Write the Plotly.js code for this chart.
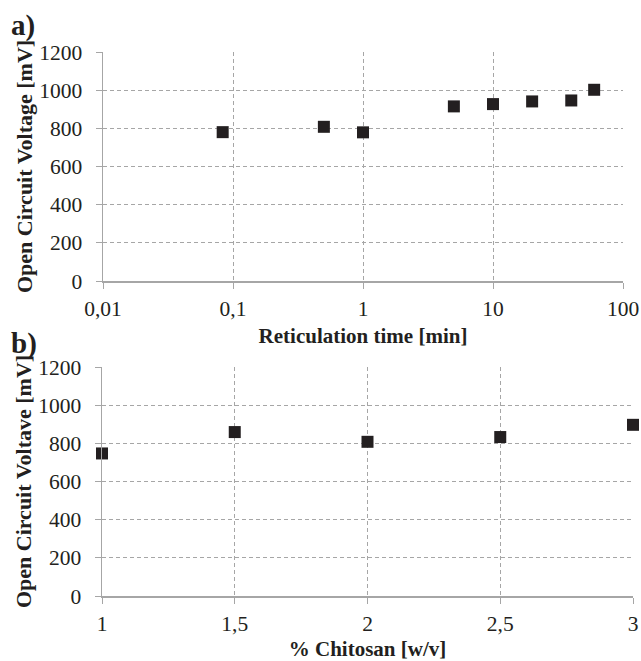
<!DOCTYPE html>
<html><head><meta charset="utf-8">
<script src="https://cdn.plot.ly/plotly-3.0.1.min.js"></script>
<style>body{margin:0;padding:0;background:#fff}#c{width:641px;height:661px}</style>
</head><body><div id="c"></div>
<script>
// Panel a: Reticulation time [min] vs Open Circuit Voltage [mV]
const timeMin = [0.0833, 0.5, 1, 5, 10, 20, 40, 60];
const ocvTime = [780, 808, 779, 915, 927, 941, 946, 1002];
const timeTickVals = [0.01, 0.1, 1, 10, 100];
const timeTickText = ['0,01', '0,1', '1', '10', '100'];

// Panel b: % Chitosan [w/v] vs Open Circuit Voltave [mV]
const chitosan = [1, 1.5, 2, 2.5, 3];
const ocvChitosan = [747, 859, 808, 833, 897];
const chitoTickVals = [1, 1.5, 2, 2.5, 3];
const chitoTickText = ['1', '1,5', '2', '2,5', '3'];

const yTickVals = [0, 200, 400, 600, 800, 1000, 1200];

const W = 641, H = 661;
const serif = '"Liberation Serif", "Times New Roman", serif';
const mk = {symbol: 'square', size: 12, color: '#231f20'};

const traces = [
  {x: timeMin, y: ocvTime, type: 'scatter', mode: 'markers', marker: mk, xaxis: 'x', yaxis: 'y', cliponaxis: false},
  {x: chitosan, y: ocvChitosan, type: 'scatter', mode: 'markers', marker: mk, xaxis: 'x2', yaxis: 'y2', cliponaxis: false}
];

const gridC = '#a6a6a6';
function yax(domain, title) {
  return {
    domain: domain, range: [0, 1200], tickvals: yTickVals, ticks: 'outside', ticklen: 6, tickcolor: gridC,
    ticklabelstandoff: 9,
    showgrid: true, gridcolor: gridC, griddash: '4px,3px', gridwidth: 1,
    showline: true, linecolor: gridC, linewidth: 1.5, zeroline: false,
    tickfont: {family: serif, size: 21.5, color: '#231f20'},
    title: {text: title, font: {family: serif, size: 22, color: '#231f20'}, standoff: 0},
    automargin: false, fixedrange: true
  };
}
function xax(domain, extra, title) {
  return Object.assign({
    domain: domain, ticks: 'outside', ticklen: 6, tickcolor: gridC,
    ticklabelstandoff: 2,
    showgrid: true, gridcolor: gridC, griddash: '4px,3px', gridwidth: 1,
    showline: true, linecolor: gridC, linewidth: 1.5, zeroline: false,
    tickfont: {family: serif, size: 21.5, color: '#231f20'},
    title: {text: title, font: {family: serif, size: 21, color: '#231f20'}, standoff: 8},
    automargin: false, fixedrange: true
  }, extra);
}

const layout = {
  width: W, height: H,
  margin: {l: 0, r: 0, t: 0, b: 0},
  paper_bgcolor: '#fff', plot_bgcolor: '#fff',
  showlegend: false,
  font: {family: serif, color: '#231f20'},
  xaxis: xax([103 / W, 623 / W], {type: 'log', range: [-2, 2], tickvals: timeTickVals, ticktext: timeTickText, anchor: 'y'}, '<b>Reticulation time [min]</b>'),
  yaxis: Object.assign(yax([1 - 281 / H, 1 - 52 / H], '<b>Open Circuit Voltage [mV]</b>'), {anchor: 'x'}),
  xaxis2: xax([102 / W, 633 / W], {range: [1, 3], tickvals: chitoTickVals, ticktext: chitoTickText, anchor: 'y2'}, '<b>% Chitosan [w/v]</b>'),
  yaxis2: Object.assign(yax([1 - 596 / H, 1 - 367 / H], '<b>Open Circuit Voltave [mV]</b>'), {anchor: 'x2'}),
  annotations: [
    {text: '<b>a)</b>', x: 9 / W, y: 1 - 25 / H, xref: 'paper', yref: 'paper', xanchor: 'left', yanchor: 'middle', showarrow: false, font: {family: serif, size: 29, color: '#231f20'}},
    {text: '<b>b)</b>', x: 9 / W, y: 1 - 343 / H, xref: 'paper', yref: 'paper', xanchor: 'left', yanchor: 'middle', showarrow: false, font: {family: serif, size: 29, color: '#231f20'}}
  ]
};

Plotly.newPlot('c', traces, layout, {displayModeBar: false, staticPlot: true});
</script></body></html>
